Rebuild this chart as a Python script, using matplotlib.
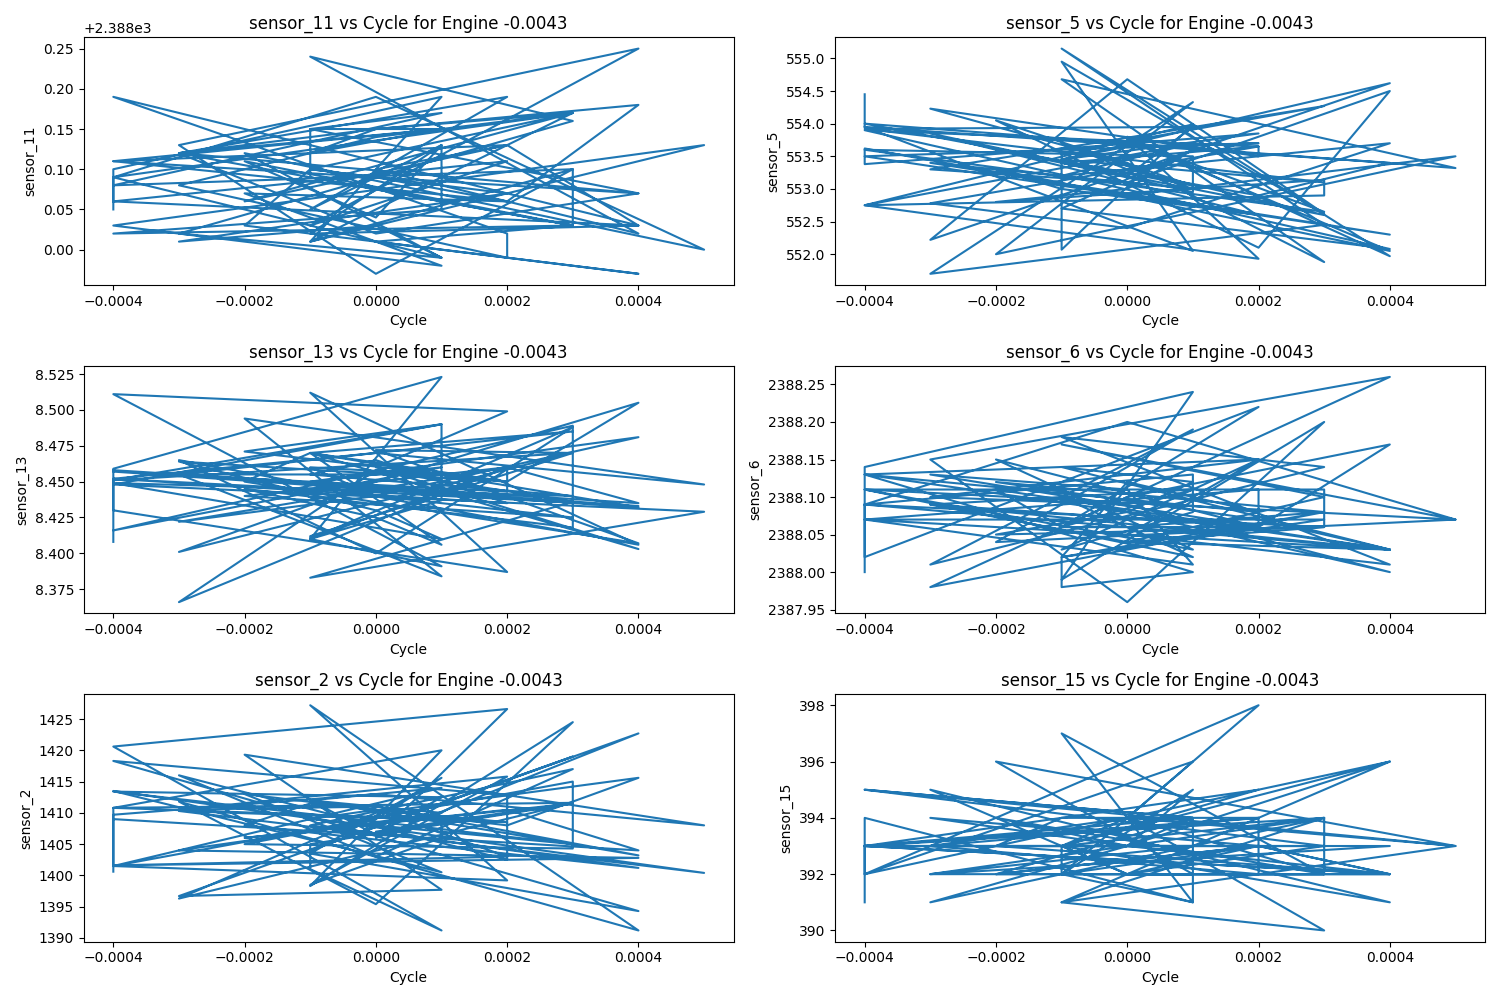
import matplotlib
matplotlib.use("Agg")
import matplotlib.pyplot as plt

engine_label = "-0.0043"

cycle = [-0.0004, -0.0004, 0.0001, -0.0001, 0.0003, 0.0000, -0.0003, 0.0004, -0.0001, 0.0002,
         -0.0004, -0.0004, 0.0000, 0.0005, -0.0002, 0.0001, -0.0003, 0.0003, -0.0001, 0.0004,
         0.0000, 0.0002, -0.0004, 0.0001, -0.0001, -0.0001, 0.0003, -0.0003, 0.0000, 0.0004,
         0.0002, -0.0002, 0.0001, -0.0004, 0.0005, -0.0001, 0.0003, 0.0000, -0.0003, 0.0002,
         0.0002, -0.0004, 0.0004, -0.0001, 0.0001, 0.0000, -0.0002, 0.0003, 0.0003, -0.0004,
         0.0001, -0.0001, 0.0004, 0.0000, -0.0003, 0.0002, -0.0001, 0.0001, 0.0001, -0.0004,
         0.0003, 0.0000, 0.0004, -0.0002, -0.0001, 0.0002, -0.0003, 0.0000, 0.0001, -0.0004,
         0.0003, -0.0001, 0.0000, 0.0002, -0.0004, 0.0004, -0.0003, 0.0001, -0.0001,
         0.0000, 0.0003, -0.0002, 0.0002, 0.0004, -0.0004]

sensor_11 = [2388.05, 2388.10, 2388.19, 2388.01, 2388.10, 2387.97, 2388.13, 2388.25, 2388.03, 2388.11,
             2388.06, 2388.09, 2388.19, 2388.00, 2388.12, 2387.99, 2388.02, 2388.16, 2388.24, 2388.02,
             2388.10, 2388.13, 2388.11, 2388.15, 2388.15, 2388.09, 2388.03, 2388.12, 2388.15, 2388.18,
             2388.06, 2388.07, 2387.98, 2388.03, 2388.13, 2388.01, 2388.17, 2388.14, 2388.08, 2387.99,
             2388.02, 2388.19, 2388.03, 2388.02, 2388.13, 2388.04, 2388.11, 2388.03, 2388.10, 2388.08,
             2388.17, 2388.15, 2388.07, 2388.02, 2388.12, 2388.19, 2388.05, 2388.13, 2388.05, 2388.02,
             2388.03, 2388.01, 2387.97, 2388.03, 2388.10, 2388.07, 2388.01, 2388.03, 2387.99, 2388.09,
             2388.17, 2388.10, 2388.09, 2388.06, 2388.11, 2388.07, 2388.12, 2388.15, 2388.12,
             2388.15, 2388.17, 2388.06, 2388.13, 2388.03, 2388.06]

sensor_5 = [554.45, 553.95, 552.05, 554.95, 552.62, 554.68, 552.22, 554.62, 553.45, 553.85,
            553.38, 553.62, 552.90, 553.50, 552.00, 554.33, 551.70, 552.45, 555.15, 551.97,
            553.80, 551.93, 552.75, 553.99, 552.07, 553.55, 554.27, 553.30, 553.10, 554.50,
            552.10, 554.05, 553.05, 554.00, 553.32, 554.68, 551.88, 553.40, 554.23, 553.50,
            553.65, 553.90, 552.08, 552.70, 553.60, 553.00, 552.80, 553.14, 552.90, 552.75,
            553.70, 553.20, 553.70, 552.40, 552.78, 553.65, 553.40, 552.95, 553.50, 553.60,
            552.65, 553.75, 552.05, 553.30, 553.00, 552.60, 553.85, 553.20, 553.95, 553.92,
            553.10, 553.45, 553.65, 553.70, 553.50, 552.30, 553.40, 553.00, 553.70,
            553.30, 552.60, 553.60, 552.90, 553.40, 553.95]

sensor_13 = [8.408, 8.459, 8.523, 8.410, 8.488, 8.400, 8.465, 8.406, 8.512, 8.387,
             8.430, 8.452, 8.470, 8.448, 8.494, 8.384, 8.455, 8.485, 8.470, 8.403,
             8.460, 8.499, 8.511, 8.391, 8.410, 8.412, 8.470, 8.401, 8.450, 8.505,
             8.450, 8.471, 8.490, 8.448, 8.429, 8.383, 8.436, 8.458, 8.366, 8.460,
             8.443, 8.457, 8.432, 8.470, 8.406, 8.425, 8.445, 8.418, 8.489, 8.416,
             8.460, 8.450, 8.481, 8.440, 8.422, 8.460, 8.410, 8.437, 8.490, 8.451,
             8.470, 8.472, 8.407, 8.450, 8.470, 8.450, 8.464, 8.430, 8.410, 8.449,
             8.440, 8.455, 8.465, 8.435, 8.452, 8.433, 8.455, 8.455, 8.460,
             8.440, 8.425, 8.440, 8.460, 8.435, 8.458]

sensor_6 = [2388.00, 2388.14, 2388.24, 2387.99, 2388.20, 2387.96, 2388.15, 2388.26, 2388.06, 2388.22,
            2388.02, 2388.09, 2388.20, 2388.07, 2388.04, 2388.19, 2388.01, 2388.14, 2388.18, 2388.01,
            2388.05, 2388.15, 2388.13, 2388.00, 2387.98, 2388.02, 2388.08, 2387.98, 2388.10, 2388.17,
            2388.06, 2388.15, 2388.03, 2388.11, 2388.07, 2388.17, 2388.10, 2388.04, 2388.09, 2388.06,
            2388.11, 2388.07, 2388.03, 2388.14, 2388.12, 2388.08, 2388.05, 2388.06, 2388.11, 2388.11,
            2388.02, 2388.10, 2388.00, 2388.09, 2388.10, 2388.15, 2388.03, 2388.08, 2388.13, 2388.09,
            2388.06, 2388.04, 2388.03, 2388.11, 2388.06, 2388.06, 2388.13, 2388.11, 2388.01, 2388.07,
            2388.07, 2388.02, 2388.12, 2388.08, 2388.13, 2388.03, 2388.09, 2388.11, 2388.06,
            2388.06, 2388.08, 2388.12, 2388.07, 2388.03, 2388.09]

sensor_2 = [1400.6, 1410.8, 1420.0, 1398.3, 1424.5, 1395.4, 1411.8, 1391.2, 1427.2, 1399.2,
            1401.5, 1409.7, 1413.0, 1408.0, 1419.3, 1397.7, 1396.7, 1419.0, 1404.0, 1422.7,
            1406.0, 1426.6, 1420.6, 1391.2, 1401.0, 1405.0, 1411.6, 1396.3, 1410.0, 1415.6,
            1408.0, 1413.0, 1400.5, 1413.5, 1400.4, 1408.0, 1417.0, 1403.0, 1416.0, 1402.5,
            1412.8, 1418.3, 1394.3, 1403.5, 1415.6, 1409.0, 1405.0, 1404.3, 1415.0, 1401.5,
            1414.0, 1412.0, 1403.2, 1411.0, 1410.5, 1415.8, 1398.5, 1406.0, 1409.0, 1410.8,
            1411.6, 1407.0, 1401.2, 1408.0, 1411.5, 1408.5, 1410.3, 1406.5, 1412.5, 1413.4,
            1405.0, 1409.0, 1410.5, 1403.0, 1401.6, 1402.8, 1404.0, 1410.0, 1412.0,
            1406.5, 1411.5, 1406.0, 1410.5, 1404.0, 1409.0]

sensor_15 = [391, 394, 391, 397, 392, 392, 395, 391, 393, 395,
             393, 392, 394, 393, 396, 392, 392, 394, 391, 396,
             394, 398, 392, 396, 392, 393, 394, 391, 393, 392,
             393, 392, 394, 395, 393, 391, 390, 394, 393, 392,
             394, 393, 392, 392, 395, 393, 394, 392, 394, 393,
             393, 393, 396, 393, 394, 393, 392, 391, 394, 393,
             393, 392, 392, 393, 394, 394, 393, 393, 394, 395,
             393, 393, 392, 393, 393, 393, 392, 393, 393,
             394, 392, 392, 393, 392, 393]

panels = [("sensor_11", sensor_11), ("sensor_5", sensor_5),
          ("sensor_13", sensor_13), ("sensor_6", sensor_6),
          ("sensor_2", sensor_2), ("sensor_15", sensor_15)]

fig, axes = plt.subplots(3, 2, figsize=(15, 10), dpi=100)
for ax, (name, vals) in zip(axes.flat, panels):
    ax.plot(cycle, vals, color="#1f77b4")
    ax.set_title(f"{name} vs Cycle for Engine {engine_label}")
    ax.set_xlabel("Cycle")
    ax.set_ylabel(name)

fig.tight_layout()
fig.savefig("out.png")
